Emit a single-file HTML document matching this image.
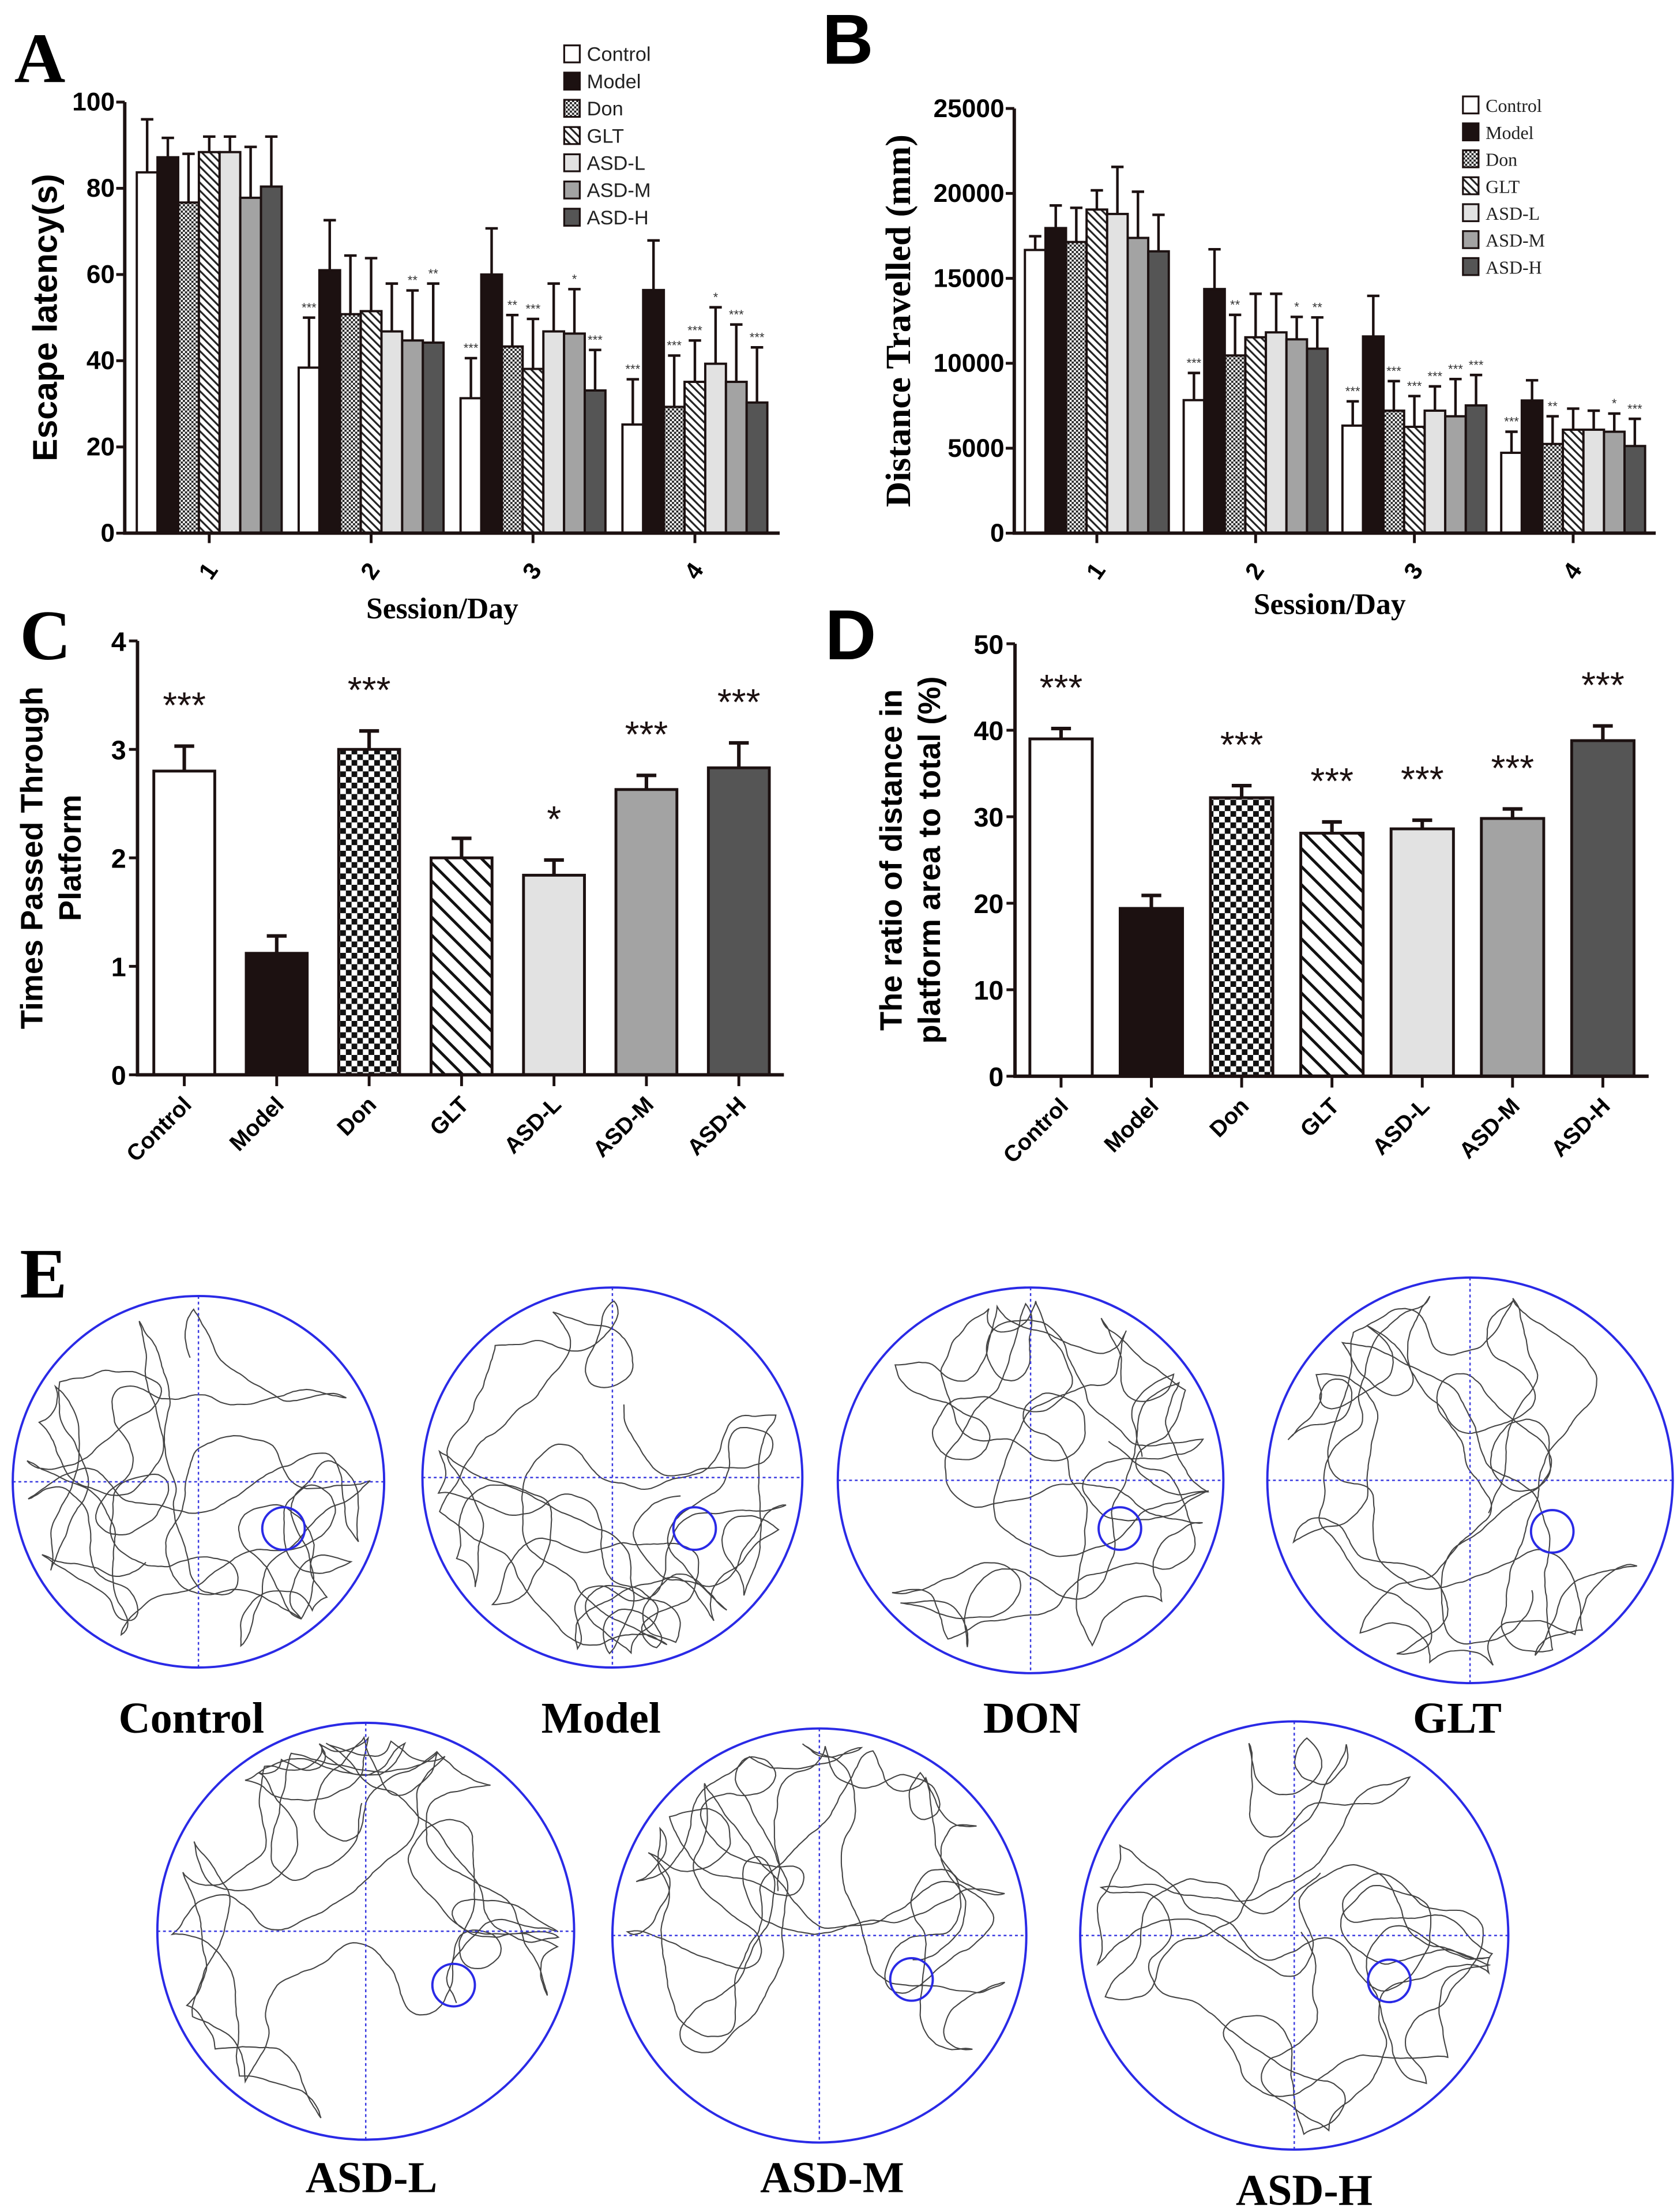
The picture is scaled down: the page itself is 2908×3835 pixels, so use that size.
<!DOCTYPE html>
<html><head><meta charset="utf-8"><style>
html,body{margin:0;padding:0;background:#fff}
svg{display:block}
</style></head><body>
<svg id="fig" xmlns="http://www.w3.org/2000/svg" width="2908" height="3835" viewBox="0 0 1183 1560" preserveAspectRatio="none">
<defs>
<pattern id="chk" width="3" height="3" patternUnits="userSpaceOnUse"><rect width="3" height="3" fill="#fff"/><rect width="1.5" height="1.5" fill="#222"/><rect x="1.5" y="1.5" width="1.5" height="1.5" fill="#222"/></pattern>
<pattern id="chkL" width="8" height="8" patternUnits="userSpaceOnUse"><rect width="8" height="8" fill="#fff"/><rect width="4" height="4" fill="#111"/><rect x="4" y="4" width="4" height="4" fill="#111"/></pattern>
<pattern id="dia" width="4" height="4" patternUnits="userSpaceOnUse" patternTransform="rotate(-45)"><rect width="4" height="4" fill="#fff"/><rect width="1.3" height="4" fill="#222"/></pattern>
<pattern id="diaL" width="9" height="9" patternUnits="userSpaceOnUse" patternTransform="rotate(-45)"><rect width="9" height="9" fill="#fff"/><rect width="2" height="9" fill="#111"/></pattern>
</defs>
<g id="root"></g>
</svg>
<script>
// ===== Panel A data =====
const groupsA = ["1","2","3","4"];
const seriesNames = ["Control","Model","Don","GLT","ASD-L","ASD-M","ASD-H"];
const meanA_control = [83.7,38.4,31.3,25.2];
const meanA_model = [87.2,61.0,60.0,56.4];
const meanA_don = [76.7,50.8,43.3,29.3];
const meanA_glt = [88.4,51.5,38.1,35.1];
const meanA_asdl = [88.4,46.8,46.8,39.3];
const meanA_asdm = [77.8,44.7,46.3,35.1];
const meanA_asdh = [80.4,44.2,33.1,30.3];
const errA_control = [12.3,11.6,9.3,10.5];
const errA_model = [4.5,11.6,10.7,11.5];
const errA_don = [11.3,13.6,7.3,11.9];
const errA_glt = [3.6,12.3,11.6,9.6];
const errA_asdl = [3.6,11.1,11.1,13.1];
const errA_asdm = [11.8,11.6,10.3,13.3];
const errA_asdh = [11.6,13.7,9.4,12.8];
const starsA = [["","","","","","",""],["***","","","","","**","**"],["***","","**","***","","*","***"],["***","","***","***","*","***","***"]];
const ticksA = [0,20,40,60,80,100];
// ===== Panel B data =====
const meanB_control = [16670,7830,6330,4730];
const meanB_model = [17960,14370,11580,7810];
const meanB_don = [17140,10460,7210,5250];
const meanB_glt = [19050,11530,6260,6090];
const meanB_asdl = [18790,11820,7210,6090];
const meanB_asdm = [17380,11410,6880,5970];
const meanB_asdh = [16590,10860,7520,5130];
const errB_control = [810,1600,1430,1240];
const errB_model = [1330,2340,2390,1190];
const errB_don = [2010,2390,1740,1630];
const errB_glt = [1130,2560,1810,1240];
const errB_asdl = [2770,2270,1430,1120];
const errB_asdm = [2720,1320,2190,1070];
const errB_asdh = [2150,1840,1790,1600];
const starsB = [["","","","","","",""],["***","","**","","","*","**"],["***","","***","***","***","***","***"],["***","","**","","","*","***"]];
const ticksB = [0,5000,10000,15000,20000,25000];
// ===== Panel C data =====
const meanC = [2.80,1.12,3.00,2.00,1.84,2.63,2.83];
const errC = [0.23,0.16,0.17,0.18,0.14,0.13,0.23];
const starsC = ["***","","***","","*","***","***"];
const ticksC = [0,1,2,3,4];
// ===== Panel D data =====
const meanD = [39.0,19.4,32.2,28.1,28.6,29.8,38.8];
const errD = [1.2,1.5,1.4,1.3,1.0,1.1,1.7];
const starsD = ["***","","***","***","***","***","***"];
const ticksD = [0,10,20,30,40,50];

const NS="http://www.w3.org/2000/svg";
const root=document.getElementById('root');
function el(tag,attrs,parent,text){const e=document.createElementNS(NS,tag);for(const k in attrs)e.setAttribute(k,attrs[k]);if(text!==undefined)e.textContent=text;(parent||root).appendChild(e);return e;}
const fillsS=["#fff","#1c1111","url(#chk)","url(#dia)","#e2e2e2","#a3a3a3","#555"];
const fillsL=["#fff","#1c1111","url(#chkL)","url(#diaL)","#e2e2e2","#a3a3a3","#555"];
const SANS='"Liberation Sans", Arial, sans-serif', SERIF='"Liberation Serif", serif';

function letter(t,x,y,font){const e=el('text',{x:x,y:y,'font-family':font||SERIF,'font-weight':'bold','font-size':50},root,t);}
letter('A',10,58);letter('B',580,45,SANS);letter('C',14,465,SERIF);letter('D',582,465,SANS);letter('E',14,915);

function groupedChart(o){
  const g=el('g',{});
  const yS=v=>o.y0-(v/o.max)*(o.y0-o.y1);
  for(let i=0;i<o.groups.length;i++){
    for(let j=0;j<o.means.length;j++){
      const x=o.gx0+i*o.gstep+j*o.bw, m=o.means[j][i], e=o.errs[j][i];
      const ex=x+o.bw/2;
      const eb=el('path',{d:`M${ex} ${yS(m)}V${yS(m+e)}M${ex-o.bw*0.3} ${yS(m+e)}H${ex+o.bw*0.3}`,stroke:'#1c1111','stroke-width':1.8,fill:'none'},g);
      
      const r=el('rect',{x:x,y:yS(m),width:o.bw,height:o.y0-yS(m),fill:fillsS[j],stroke:'#1c1111','stroke-width':1.6},g);
      
      const s=o.stars[i][j];
      if(s){const t=el('text',{x:ex,y:yS(m+e)-4,'text-anchor':'middle','font-family':SANS,'font-size':9,fill:'#333'},g,s);}
    }
    const tx=o.gx0+i*o.gstep+o.bw*3.5;
    el('line',{x1:tx,x2:tx,y1:o.y0,y2:o.y0+7,stroke:'#1c1111','stroke-width':2},g);
    const tl=el('text',{x:0,y:0,transform:`translate(${tx+4},${o.y0+30}) rotate(-55)`,'text-anchor':'middle','font-family':SANS,'font-weight':'bold','font-size':17},g,o.groups[i]);
    
  }
  const ax=el('path',{d:`M${o.ax} ${o.y1}V${o.y0}H${o.axEnd}`,stroke:'#1c1111','stroke-width':2.4,fill:'none'},g);
  
  o.ticks.forEach(t=>{el('line',{x1:o.ax-6,x2:o.ax,y1:yS(t),y2:yS(t),stroke:'#1c1111','stroke-width':2},g);
    const tl=el('text',{x:o.ax-7,y:yS(t)+6,'text-anchor':'end','font-family':SANS,'font-weight':'bold','font-size':o.tfs||18},g,String(t));
    });
  const yl=el('text',{x:0,y:0,transform:`translate(${o.ylx},${(o.y0+o.y1)/2}) rotate(-90)`,'text-anchor':'middle','font-family':o.ylFont,'font-weight':'bold','font-size':o.ylfs},g,o.ylabel);
  
  const xl=el('text',{x:o.xlx,y:o.xly,'text-anchor':'middle','font-family':SERIF,'font-weight':'bold','font-size':21},g,'Session/Day');
  
  const lg=el('g',{},g);
  seriesNames.forEach((n,j)=>{const yy=o.ly+j*o.lstep;
    el('rect',{x:o.lx,y:yy-11,width:11,height:12,fill:fillsS[j],stroke:'#1c1111','stroke-width':1.3},lg);
    const t=el('text',{x:o.lx+16,y:yy,'font-family':o.lfont,'font-size':o.lfs,fill:'#222'},lg,n);
    });
}
groupedChart({name:'chart-a-escape-latency',groups:groupsA,means:[meanA_control,meanA_model,meanA_don,meanA_glt,meanA_asdl,meanA_asdm,meanA_asdh],errs:[errA_control,errA_model,errA_don,errA_glt,errA_asdl,errA_asdm,errA_asdh],stars:starsA,
  ticks:ticksA,max:100,y0:376,y1:72,ax:88,axEnd:550,gx0:96.5,gstep:114.2,bw:14.6,ylx:40,ylabel:'Escape latency(s)',ylFont:SANS,ylfs:24,xlx:312,xly:436,lx:398,ly:43,lstep:19.2,lfont:SANS,lfs:14});
groupedChart({name:'chart-b-distance',groups:groupsA,means:[meanB_control,meanB_model,meanB_don,meanB_glt,meanB_asdl,meanB_asdm,meanB_asdh],errs:[errB_control,errB_model,errB_don,errB_glt,errB_asdl,errB_asdm,errB_asdh],stars:starsB,
  ticks:ticksB,max:25000,y0:376,y1:76.5,ax:715.5,axEnd:1168,gx0:723,gstep:112,bw:14.5,ylx:642,ylabel:'Distance Travelled (mm)',ylFont:SERIF,ylfs:25,xlx:938,xly:433,lx:1032,ly:79,lstep:19,lfont:SERIF,lfs:13,tfs:18});

function simpleChart(o){
  const g=el('g',{});
  const yS=v=>o.y0-(v/o.max)*(o.y0-o.y1);
  o.means.forEach((m,j)=>{const cx=o.c0+j*o.step, e=o.errs[j], x=cx-o.bw/2;
    const eb=el('path',{d:`M${cx} ${yS(m)}V${yS(m+e)}M${cx-7} ${yS(m+e)}H${cx+7}`,stroke:'#1c1111','stroke-width':2.5,fill:'none'},g);
    
    const r=el('rect',{x:x,y:yS(m),width:o.bw,height:o.y0-yS(m),fill:fillsL[j],stroke:'#1c1111','stroke-width':2},g);
    
    if(o.stars[j]){const t=el('text',{x:cx,y:yS(m+e)-o.sgap,'text-anchor':'middle','font-family':SANS,'font-size':26,fill:'#1c1111'},g,o.stars[j]);}
    el('line',{x1:cx,x2:cx,y1:o.y0,y2:o.y0+8,stroke:'#1c1111','stroke-width':2},g);
    const tl=el('text',{x:0,y:0,transform:`translate(${cx+6},${o.y0+22}) rotate(-45)`,'text-anchor':'end','font-family':SANS,'font-weight':'bold','font-size':16},g,seriesNames[j]);
    
  });
  const ax=el('path',{d:`M${o.ax} ${o.y1}V${o.y0}H${o.axEnd}`,stroke:'#1c1111','stroke-width':2.4,fill:'none'},g);
  
  o.ticks.forEach(t=>{el('line',{x1:o.ax-6,x2:o.ax,y1:yS(t),y2:yS(t),stroke:'#1c1111','stroke-width':2},g);
    const tl=el('text',{x:o.ax-8,y:yS(t)+7,'text-anchor':'end','font-family':SANS,'font-weight':'bold','font-size':19},g,String(t));
    });
  o.ylabels.forEach((l,k)=>{const yl=el('text',{x:0,y:0,transform:`translate(${o.ylx[k]},${(o.y0+o.y1)/2}) rotate(-90)`,'text-anchor':'middle','font-family':SANS,'font-weight':'bold','font-size':22},g,l);
    });
}
simpleChart({name:'chart-c-platform-crossings',means:meanC,errs:errC,stars:starsC,ticks:ticksC,max:4,y0:758,y1:452,ax:97,axEnd:553,c0:130,step:65.2,bw:43,sgap:20,
  ylabels:['Times Passed Through','Platform'],ylx:[30,57]});
simpleChart({name:'chart-d-distance-ratio',means:meanD,errs:errD,stars:starsD,ticks:ticksD,max:50,y0:759,y1:454,ax:716,axEnd:1163,c0:748.5,step:63.7,bw:44,sgap:20,
  ylabels:['The ratio of distance in','platform area to total (%)'],ylx:[636,663]});

// ===== Panel E: swim trajectories =====
const arenas=[
 {n:'Control',cx:140,cy:1045,r:131,px:200,py:1078,lx:135,ly:1222,seed:3},
 {n:'Model',cx:432,cy:1042,r:134,px:490,py:1078,lx:424,ly:1222,seed:7},
 {n:'DON',cx:727,cy:1044,r:136,px:790,py:1078,lx:728,ly:1222,seed:11},
 {n:'GLT',cx:1037,cy:1044,r:143,px:1095,py:1080,lx:1028,ly:1222,seed:19},
 {n:'ASD-L',cx:258,cy:1362,r:147,px:320,py:1400,lx:262,ly:1546,seed:23},
 {n:'ASD-M',cx:578,cy:1365,r:146,px:643,py:1396,lx:587,ly:1546,seed:29},
 {n:'ASD-H',cx:913,cy:1365,r:151,px:980,py:1397,lx:920,ly:1555,seed:31}];
arenas.forEach(a=>{
  const g=el('g',{});
  let s=a.seed*9301+49297;const rnd=()=>{s=(s*9301+49297)%233280;return s/233280;};
  let x=a.cx+(rnd()-0.5)*a.r, y=a.cy+(rnd()-0.5)*a.r, ang=rnd()*6.28, turn=0, d=`M${x.toFixed(1)} ${y.toFixed(1)}`;
  for(let i=0;i<1600;i++){
    turn=turn*0.9+(rnd()-0.5)*0.12;
    ang+=turn+(rnd()-0.5)*0.35;
    let nx=x+Math.cos(ang)*2.4, ny=y+Math.sin(ang)*2.4;
    const dx=nx-a.cx, dy=ny-a.cy;
    if(Math.hypot(dx,dy)>a.r*0.93){ang=Math.atan2(a.cy-y,a.cx-x)+(rnd()-0.5)*2.2;nx=x+Math.cos(ang)*2.4;ny=y+Math.sin(ang)*2.4;}
    x=nx;y=ny;d+=`L${x.toFixed(1)} ${y.toFixed(1)}`;
  }
  const p=el('path',{d:d,fill:'none',stroke:'#444','stroke-width':0.85},g);
  el('line',{x1:a.cx-a.r,x2:a.cx+a.r,y1:a.cy,y2:a.cy,stroke:'#3a3ae0','stroke-width':1,'stroke-dasharray':'2 2'},g);
  el('line',{x1:a.cx,x2:a.cx,y1:a.cy-a.r,y2:a.cy+a.r,stroke:'#3a3ae0','stroke-width':1,'stroke-dasharray':'2 2'},g);
  const c=el('circle',{cx:a.cx,cy:a.cy,r:a.r,fill:'none',stroke:'#2a2ae6','stroke-width':1.6},g);
  const pc=el('circle',{cx:a.px,cy:a.py,r:15,fill:'none',stroke:'#2a2ae6','stroke-width':1.6},g);
  const t=el('text',{x:a.lx,y:a.ly,'text-anchor':'middle','font-family':SERIF,'font-weight':'bold','font-size':31},g,a.n);
});
</script>
</body></html>
